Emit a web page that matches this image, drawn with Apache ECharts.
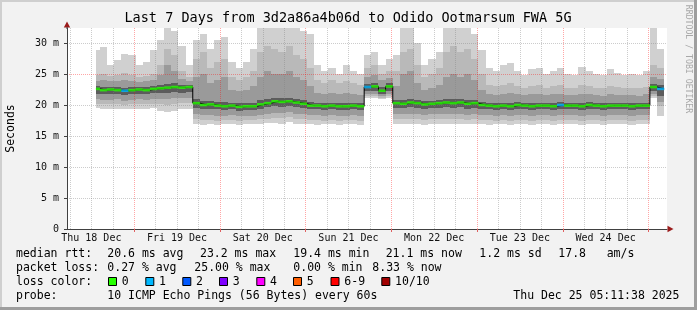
<!DOCTYPE html>
<html><head><meta charset="utf-8">
<script src="https://cdn.jsdelivr.net/npm/echarts@6/dist/echarts.min.js"></script>
<style>html,body{margin:0;padding:0;background:#f2f2f2}#c{width:697px;height:310px}</style>
</head><body><div id="c"></div>
<script>
// x axis unit: hours since Thu 18 Dec 00:00
const T0 = 5.19, T1 = 173.19;
const dataStart = 13.3;
const bucketStart = 12.4, bucketHours = 2;
const dayLabels = ['Thu 18 Dec','Fri 19 Dec','Sat 20 Dec','Sun 21 Dec','Mon 22 Dec','Tue 23 Dec','Wed 24 Dec'];
const dayLabelHours = [12, 36, 60, 84, 108, 132, 156];
const midnightHours = [24, 48, 72, 96, 120, 144, 168];
const yMajorTicks = [0, 5, 10, 15, 20, 25, 30];

const median = [
22.6,22.4,22.5,22.4,22.3,22.4,22.5,22.4,22.6,22.7,22.8,22.9,22.8,22.9,
20.3,20.0,20.1,19.9,19.8,19.9,19.7,19.8,19.8,20.1,20.3,20.6,20.5,20.6,20.4,20.2,19.9,19.9,19.8,19.9,19.8,19.8,19.9,19.8,
22.9,23.0,22.3,23.0,
20.3,20.2,20.4,20.3,20.1,20.2,20.3,20.4,20.3,20.4,20.2,20.3,
20.0,19.9,19.8,19.9,19.8,20.0,19.9,19.8,19.9,19.9,19.8,20.0,19.9,19.9,19.8,20.0,19.9,19.8,19.9,19.9,19.9,19.8,19.9,19.9,
22.9,22.6];
const loss = [
0,0,0,0,1,0,0,0,0,0,0,0,0,0,
0,0,0,0,0,0,0,0,0,0,0,0,0,0,0,0,0,0,0,0,0,0,0,0,
1,0,0,0,
0,0,0,0,0,0,0,0,0,0,0,0,
0,0,0,0,0,0,0,0,0,0,0,1,0,0,0,0,0,0,0,0,0,0,0,0,
0,1];
const maxv = [
28.8,29.3,26.5,27.2,28.2,28.0,26.5,27.0,28.8,30.5,32.5,32.0,29.5,26.5,
30.5,31.5,29.0,30.5,31.0,27.0,26.0,27.0,29.0,32.5,32.5,32.5,32.5,32.5,32.5,32.0,31.5,26.5,25.5,26.0,25.0,26.5,25.5,25.0,
28.0,28.5,26.5,27.5,
28.0,32.5,32.5,30.0,26.5,27.5,28.5,32.5,32.5,32.5,32.5,31.5,
28.8,26.0,25.5,26.5,26.8,25.5,24.8,25.8,26.0,25.0,25.5,26.0,25.0,24.8,26.2,25.5,25.0,24.8,25.8,25.2,24.8,25.0,24.8,25.5,
32.5,29.0];
const hi2 = [
24.8,25.0,24.6,24.9,25.2,24.8,24.5,24.7,25.0,26.5,29.0,28.0,25.5,24.5,
27.5,28.5,26.0,27.0,27.5,24.5,24.0,24.5,25.5,28.5,29.5,29.0,28.5,29.5,28.0,27.5,26.0,24.0,23.5,24.0,23.5,23.8,23.5,23.2,
26.0,26.5,25.0,25.5,
25.5,28.5,29.0,26.5,24.5,25.0,26.0,28.5,29.5,28.5,29.0,27.5,
25.0,23.2,23.0,23.2,23.5,23.0,22.8,23.0,23.3,22.8,23.0,23.2,22.8,22.8,23.2,23.0,22.8,22.7,23.0,22.9,22.8,22.8,22.7,22.9,
26.5,26.0];
const hi3 = [
23.9,24.0,23.8,23.9,24.1,23.9,23.7,23.8,24.0,24.8,26.5,25.5,24.2,23.8,
24.5,25.0,23.5,24.0,24.5,22.5,22.3,22.5,23.0,24.5,25.5,25.0,25.0,25.5,24.5,24.0,23.0,22.0,21.8,22.0,21.8,21.9,21.8,21.6,
24.5,24.8,24.0,24.3,
23.0,25.0,25.5,23.5,22.5,22.8,23.2,24.5,25.0,24.5,25.0,24.0,
22.5,21.8,21.6,21.8,21.9,21.7,21.6,21.8,21.8,21.6,21.7,21.8,21.6,21.6,21.8,21.7,21.6,21.5,21.7,21.6,21.6,21.6,21.5,21.7,
24.5,24.2];
const hi4 = [
23.0,22.9,22.9,22.9,22.8,22.9,22.9,22.9,23.1,23.2,23.4,23.5,23.3,23.3,
20.9,20.6,20.6,20.5,20.5,20.4,20.3,20.4,20.4,20.8,21.0,21.2,21.1,21.2,21.0,20.8,20.5,20.4,20.3,20.4,20.3,20.3,20.4,20.3,
23.4,23.5,22.9,23.5,
20.8,20.8,21.0,20.8,20.6,20.7,20.8,21.0,21.0,21.0,20.8,20.8,
20.5,20.4,20.3,20.4,20.4,20.5,20.4,20.3,20.4,20.4,20.3,20.5,20.4,20.4,20.3,20.5,20.4,20.3,20.4,20.4,20.4,20.3,20.4,20.4,
23.4,23.2];
const lo4 = [
21.8,21.7,21.7,21.7,21.6,21.7,21.8,21.7,21.9,22.0,22.0,22.1,22.0,22.1,
19.5,19.3,19.4,19.3,19.2,19.3,19.1,19.2,19.2,19.4,19.6,19.8,19.7,19.8,19.6,19.5,19.3,19.3,19.2,19.3,19.2,19.2,19.3,19.2,
22.3,22.3,21.8,22.3,
19.5,19.5,19.6,19.5,19.4,19.5,19.5,19.6,19.5,19.6,19.4,19.5,
19.4,19.3,19.2,19.3,19.2,19.4,19.3,19.2,19.3,19.3,19.2,19.4,19.3,19.3,19.2,19.4,19.3,19.2,19.3,19.3,19.3,19.2,19.3,19.3,
22.3,21.5];
const lo3 = [
20.9,20.8,20.8,20.9,20.7,20.8,20.9,20.8,21.0,21.0,20.9,21.1,21.1,21.1,
18.5,18.4,18.4,18.3,18.3,18.4,18.3,18.3,18.3,18.4,18.6,18.7,18.7,18.8,18.6,18.5,18.4,18.4,18.3,18.4,18.3,18.3,18.4,18.3,
21.7,21.8,21.4,21.8,
18.5,18.5,18.6,18.5,18.4,18.5,18.5,18.6,18.5,18.6,18.4,18.5,
18.4,18.4,18.3,18.4,18.3,18.4,18.4,18.3,18.4,18.4,18.3,18.4,18.4,18.4,18.3,18.4,18.4,18.3,18.4,18.4,18.4,18.3,18.4,18.4,
21.7,20.5];
const lo2 = [
20.2,20.1,20.1,20.2,20.0,20.1,20.2,20.1,20.2,20.1,20.0,20.2,20.3,20.3,
17.7,17.6,17.6,17.5,17.6,17.6,17.5,17.6,17.6,17.7,17.8,17.9,17.9,18.0,17.8,17.7,17.6,17.6,17.5,17.6,17.5,17.6,17.6,17.5,
21.4,21.5,21.2,21.5,
17.7,17.7,17.8,17.7,17.6,17.7,17.7,17.8,17.7,17.7,17.6,17.7,
17.6,17.6,17.5,17.6,17.5,17.6,17.6,17.5,17.6,17.6,17.5,17.6,17.6,17.6,17.5,17.6,17.6,17.5,17.6,17.6,17.6,17.5,17.6,17.6,
21.4,19.8];
const minv = [
19.5,19.4,19.3,19.4,19.4,19.3,19.4,19.4,19.5,19.0,18.8,19.0,19.3,19.4,
16.9,16.8,16.9,16.8,16.9,16.9,16.8,16.9,16.9,17.0,17.1,17.1,17.0,17.2,17.0,16.9,16.9,16.8,16.9,16.9,16.8,16.9,16.9,16.8,
21.1,21.1,21.0,21.1,
16.9,17.0,16.9,17.0,16.8,16.9,17.0,16.9,17.0,16.9,16.9,17.0,
16.9,16.8,16.9,16.9,16.8,16.9,17.0,16.8,16.9,16.9,16.8,16.9,16.9,17.0,16.8,16.9,16.9,16.8,16.9,16.9,17.0,16.8,16.9,16.9,
21.1,18.3];

const lossColors = ['#26ff00','#00b8ff','#0059ff','#7e00ff','#ff00ff','#ff5e00','#ff0000','#a10000'];
const lossLabels = ['0','1','2','3','4','5','6-9','10/10'];
const rttStats = ['median rtt:','20.6 ms avg','23.2 ms max','19.4 ms min','21.1 ms now','1.2 ms sd','17.8','am/s'];
const lossStats = ['packet loss:','0.27 % avg','25.00 % max','0.00 % min','8.33 % now'];

const MONO = '"DejaVu Sans Mono", monospace';
// band colours from min upward: min-lo2, lo2-lo3, lo3-lo4, lo4-hi4, hi4-hi3, hi3-hi2, hi2-max
const bandColors = ['#d0d0d0','#b9b9b9','#9a9a9a','#5c5c5c','#9a9a9a','#b9b9b9','#d0d0d0'];

function xAt(i){ return Math.max(dataStart, bucketStart + i*bucketHours); }
function xEnd(i){ return bucketStart + (i+1)*bucketHours; }
function steps(arr){
  const d = arr.map((v,i)=>[xAt(i), v]);
  d.push([xEnd(arr.length-1), arr[arr.length-1]]);
  return d;
}
const smokeData = median.map((m,i)=>[xAt(i), xEnd(i), minv[i], lo2[i], lo3[i], lo4[i], hi4[i], hi3[i], hi2[i], maxv[i]]);

const series = [];
series.push({type:'custom', z:2, silent:true, animation:false, data:smokeData,
  encode:{x:[0,1], y:[2,9]},
  renderItem:function(params, api){
    const cs = params.coordSys;
    const x0 = api.value(0), x1 = api.value(1);
    const children = [];
    for (let b=0; b<7; b++){
      const pA = api.coord([x0, api.value(2+b)]);
      const pB = api.coord([x1, api.value(3+b)]);
      const left = Math.round(pA[0]), right = Math.round(pB[0]);
      let top = Math.round(pB[1]), bot = Math.round(pA[1]);
      top = Math.max(top, cs.y); bot = Math.max(bot, cs.y);
      if (bot - top <= 0) continue;
      children.push({type:'rect', shape:{x:left, y:top, width:right-left, height:bot-top}, style:{fill:bandColors[b]}});
    }
    return {type:'group', children:children};
  }});
const minorV = [];
for (let h=6; h<T1; h+=6) if (h%24!==0 && h>T0) minorV.push(h);
series.push({type:'line', data:[], z:21, silent:true, animation:false,
  markLine:{silent:true, symbol:['none','none'], label:{show:false}, animation:false,
    lineStyle:{color:'rgba(128,128,128,0.4)', type:[1,1], width:1},
    data:minorV.map(h=>({xAxis:h}))}});
series.push({type:'line', data:[], z:21, silent:true, animation:false,
  markLine:{silent:true, symbol:['none','none'], label:{show:false}, animation:false,
    lineStyle:{color:'rgba(255,0,0,0.35)', type:[1,1], width:1},
    data:midnightHours.map(h=>({xAxis:h}))}});
series.push({type:'line', step:'end', data:steps(median), showSymbol:false, symbol:'none',
  lineStyle:{color:'#000', width:1}, z:22, silent:true, animation:false});
series.push({type:'scatter', symbol:'rect', z:23, silent:true, animation:false,
  data:median.map((v,i)=>({value:[(xAt(i)+xEnd(i))/2, v], itemStyle:{color:lossColors[loss[i]]},
    symbolSize:[(xEnd(i)-xAt(i))*600/(T1-T0)+0.1, 2.6]}))});

const g = [];
function txt(text,x,y,opt){ opt=opt||{};
  g.push({type:'text', x:x, y:y, rotation:opt.rot||0, z:100, silent:true,
    style:{text:text, x:0, y:0, font:(opt.size||11.5)+'px '+MONO, fill:opt.fill||'#000',
      textAlign:opt.align||'left', align:opt.align||'left', textVerticalAlign:'middle', verticalAlign:'middle'}});
}
// frame
g.push({type:'rect', shape:{x:0,y:0,width:697,height:2}, style:{fill:'#cfcfcf'}, silent:true});
g.push({type:'rect', shape:{x:0,y:0,width:2,height:310}, style:{fill:'#cfcfcf'}, silent:true});
g.push({type:'rect', shape:{x:0,y:307,width:697,height:3}, style:{fill:'#9e9e9e'}, silent:true});
g.push({type:'rect', shape:{x:694,y:0,width:3,height:310}, style:{fill:'#9e9e9e'}, silent:true});
txt('Last 7 Days from 3d2a86a4b06d to Odido Ootmarsum FWA 5G', 348, 18.5, {size:13.5, align:'center'});
txt('Seconds', 11, 128.5, {rot:Math.PI/2, align:'center', size:11.5});
txt('RRDTOOL / TOBI OETIKER', 688.5, 59, {rot:-Math.PI/2, align:'center', size:8.2, fill:'#a8a8a8'});
const rttX = [16,107.3,200,293.3,385.7,479.3,558.3,606.7];
rttStats.forEach((s,i)=>txt(s, rttX[i], 254));
const lossX = [16,107.3,194.3,293.3,372.3];
lossStats.forEach((s,i)=>txt(s, lossX[i], 268));
txt('loss color:', 16, 282);
const boxX = [108.5,145.8,182.8,219.5,256.8,293.5,331,381.8];
lossLabels.forEach((s,i)=>{
  g.push({type:'rect', shape:{x:boxX[i], y:277.5, width:8, height:8}, style:{fill:lossColors[i], stroke:'#000', lineWidth:1}, silent:true, z:100});
  txt(s, boxX[i]+13.3, 282);
});
txt('probe:', 16, 296);
txt('10 ICMP Echo Pings (56 Bytes) every 60s', 107.3, 296);
txt('Thu Dec 25 05:11:38 2025', 513.3, 296);
// axis arrows
g.push({type:'polygon', shape:{points:[[67,21.5],[63.8,27.5],[70.2,27.5]]}, style:{fill:'#9b1c1c'}, silent:true, z:100});
g.push({type:'polygon', shape:{points:[[673.5,229],[667.5,225.8],[667.5,232.2]]}, style:{fill:'#9b1c1c'}, silent:true, z:100});
g.push({type:'line', shape:{x1:67,y1:27,x2:67,y2:29}, style:{stroke:'#404040', lineWidth:1}, silent:true, z:100});

const chart = echarts.init(document.getElementById('c'), null, {renderer:'canvas'});
chart.setOption({
  animation:false,
  backgroundColor:'#f2f2f2',
  grid:{left:67, right:30, top:28, bottom:81, show:true, backgroundColor:'#ffffff', borderWidth:0},
  xAxis:{type:'value', min:T0, max:T1, z:20,
    axisLine:{show:true, onZero:false, lineStyle:{color:'#404040', width:1}},
    axisTick:{show:true, customValues:midnightHours, length:3, lineStyle:{color:'#e06060'}},
    axisLabel:{show:true, customValues:dayLabelHours, margin:4, fontFamily:MONO, fontSize:10, color:'#111',
      formatter:(v)=>dayLabels[Math.round((v-12)/24)] || ''},
    splitLine:{show:false}},
  yAxis:{type:'value', min:0, max:32.42, interval:1, z:20,
    axisLine:{show:true, lineStyle:{color:'#404040', width:1}},
    axisTick:{show:true, customValues:yMajorTicks, length:3, lineStyle:{color:'#404040'}},
    axisLabel:{show:true, customValues:yMajorTicks, margin:8, fontFamily:MONO, fontSize:10, color:'#111',
      formatter:(v)=> v===0 ? '0' : v+' m'},
    splitLine:{show:true, lineStyle:{type:[1,1], width:1,
      color:['rgba(255,0,0,0.35)','rgba(128,128,128,0.4)','rgba(128,128,128,0.4)','rgba(128,128,128,0.4)','rgba(128,128,128,0.4)']}}},
  series:series,
  graphic:{elements:g}
});
</script></body></html>
